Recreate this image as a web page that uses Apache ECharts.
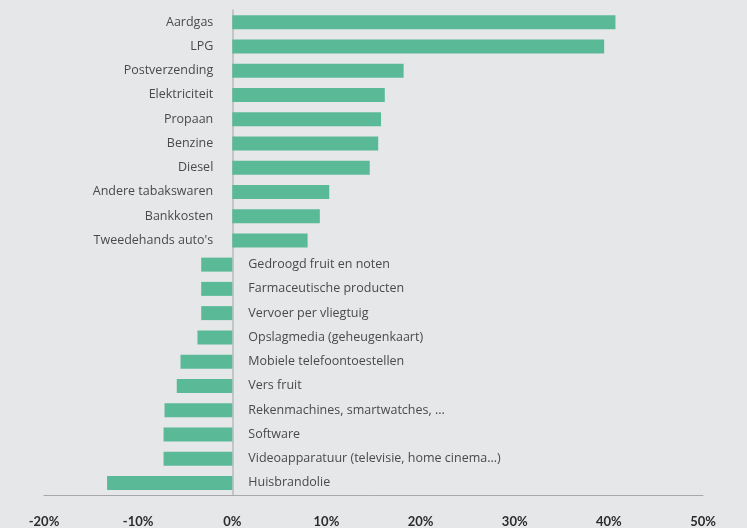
<!DOCTYPE html>
<html>
<head>
<meta charset="utf-8">
<script src="https://cdn.jsdelivr.net/npm/echarts@6/dist/echarts.min.js"></script>
<style>
  html, body { margin: 0; padding: 0; background: #e6e7e8; }
  #chart { width: 747px; height: 528px; }
</style>
</head>
<body>
<div id="chart"></div>
<script>
// Categories (top to bottom)
const categories = [
    'Aardgas', 'LPG', 'Postverzending', 'Elektriciteit', 'Propaan',
    'Benzine', 'Diesel', 'Andere tabakswaren', 'Bankkosten', "Tweedehands auto's",
    'Gedroogd fruit en noten', 'Farmaceutische producten', 'Vervoer per vliegtuig',
    'Opslagmedia (geheugenkaart)', 'Mobiele telefoontoestellen', 'Vers fruit',
    'Rekenmachines, smartwatches, ...', 'Software',
    'Videoapparatuur (televisie, home cinema...)', 'Huisbrandolie'
];
// Price change in %
const values = [
    40.7, 39.5, 18.2, 16.2, 15.8,
    15.5, 14.6, 10.3, 9.3, 8.0,
    -3.3, -3.3, -3.3,
    -3.7, -5.5, -5.9,
    -7.2, -7.3,
    -7.3, -13.3
];
const xTicks = [-20, -10, 0, 10, 20, 30, 40, 50];

const chart = echarts.init(document.getElementById('chart'));

const barData = values.map(v => ({
    value: v,
    label: {
        position: v >= 0 ? 'left' : 'right',
        distance: v >= 0 ? 19 : 16
    }
}));

chart.setOption({
    backgroundColor: '#e6e7e8',
    animation: false,
    grid: { left: 44, right: 44, top: 10, bottom: 32, containLabel: false },
    xAxis: {
        type: 'value',
        min: xTicks[0],
        max: xTicks[xTicks.length - 1],
        interval: 10,
        axisLine: { show: true, lineStyle: { color: '#a7a8aa', width: 1 } },
        axisTick: { show: false },
        splitLine: { show: false },
        axisLabel: {
            margin: 20,
            formatter: '{value}%',
            color: '#2b2b2b',
            fontWeight: 'bold',
            fontSize: 13,
            fontFamily: 'Lato'
        }
    },
    yAxis: {
        type: 'category',
        inverse: true,
        data: categories,
        axisLine: { show: true, onZero: true, lineStyle: { color: '#b9babc', width: 1.5 } },
        axisTick: { show: false },
        axisLabel: { show: false },
        splitLine: { show: false }
    },
    series: [{
        type: 'bar',
        data: barData,
        barWidth: 14,
        itemStyle: { color: '#5aba98' },
        label: {
            show: true,
            formatter: '{b}',
            color: '#4a4a4a',
            fontSize: 12.5,
            fontFamily: 'Open Sans'
        }
    }]
});
</script>
</body>
</html>
